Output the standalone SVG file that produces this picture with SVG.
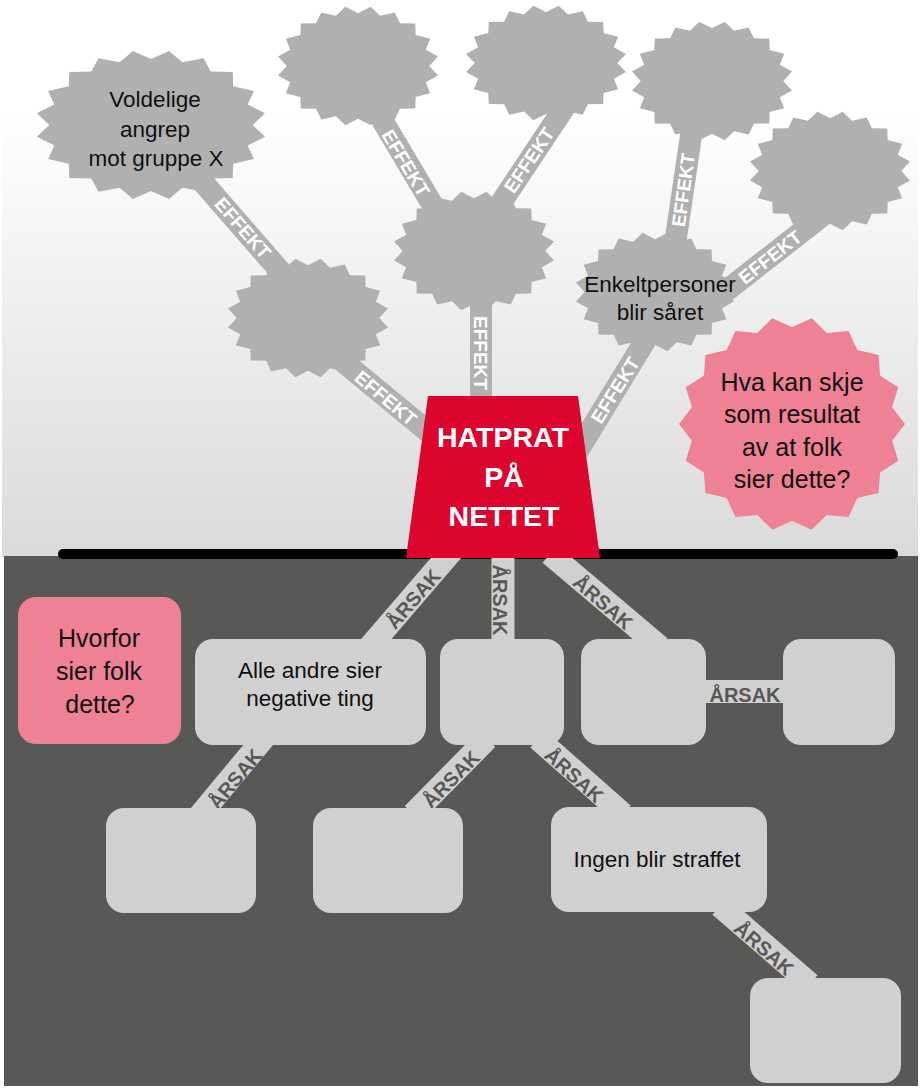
<svg xmlns="http://www.w3.org/2000/svg" xmlns:xlink="http://www.w3.org/1999/xlink" width="920" height="1089" viewBox="0 0 920 1089">
  <style>
    .burst { fill: #b0b0b0; }
    .pink { fill: #ee8193; }
    .box { fill: #d0d0d0; }
    .band-top { stroke: #b0b0b0; stroke-width: 22; fill: none; }
    .band-bot { stroke: #d0d0d0; stroke-width: 23; fill: none; }
    .eff { font-family: "Liberation Sans", Arial, sans-serif; font-weight: bold; font-size: 19px; fill: #ffffff; text-anchor: middle; }
    .aar { font-family: "Liberation Sans", Arial, sans-serif; font-weight: bold; font-size: 20px; fill: #585856; text-anchor: middle; }
    .lbl { font-family: "Liberation Sans", Arial, sans-serif; font-size: 22.5px; fill: #111111; text-anchor: middle; }
    .lbl-big { font-family: "Liberation Sans", Arial, sans-serif; font-size: 25px; fill: #111111; text-anchor: middle; }
    .title { font-family: "Liberation Sans", Arial, sans-serif; font-weight: bold; font-size: 28.5px; fill: #ffffff; text-anchor: middle; }
  </style>
  <defs>
    <linearGradient id="sky" x1="0" y1="0" x2="0" y2="556" gradientUnits="userSpaceOnUse">
      <stop offset="0" stop-color="#ffffff"/>
      <stop offset="0.2" stop-color="#ffffff"/>
      <stop offset="1" stop-color="#dadada"/>
    </linearGradient>
    <polygon id="star20" points="88,0 98.77,15.64 83.69,27.19 89.1,45.4 71.19,51.73 70.71,70.71 51.73,71.19 45.4,89.1 27.19,83.69 15.64,98.77 0,88 -15.64,98.77 -27.19,83.69 -45.4,89.1 -51.73,71.19 -70.71,70.71 -71.19,51.73 -89.1,45.4 -83.69,27.19 -98.77,15.64 -88,0 -98.77,-15.64 -83.69,-27.19 -89.1,-45.4 -71.19,-51.73 -70.71,-70.71 -51.73,-71.19 -45.4,-89.1 -27.19,-83.69 -15.64,-98.77 0,-88 15.64,-98.77 27.19,-83.69 45.4,-89.1 51.73,-71.19 70.71,-70.71 71.19,-51.73 89.1,-45.4 83.69,-27.19 98.77,-15.64"/>
    <polygon id="star18" points="100,0 88.63,15.63 93.97,34.2 77.94,45 76.6,64.28 57.85,68.94 50,86.6 30.78,84.57 17.36,98.48 0,90 -17.36,98.48 -30.78,84.57 -50,86.6 -57.85,68.94 -76.6,64.28 -77.94,45 -93.97,34.2 -88.63,15.63 -100,0 -88.63,-15.63 -93.97,-34.2 -77.94,-45 -76.6,-64.28 -57.85,-68.94 -50,-86.6 -30.78,-84.57 -17.36,-98.48 0,-90 17.36,-98.48 30.78,-84.57 50,-86.6 57.85,-68.94 76.6,-64.28 77.94,-45 93.97,-34.2 88.63,-15.63"/>
  </defs>

  <!-- background -->
  <rect x="2" y="0" width="916" height="557" fill="url(#sky)"/>
  <rect x="4" y="556" width="914" height="530" fill="#585856"/>
  <line x1="63" y1="554" x2="893" y2="554" stroke="#000000" stroke-width="10" stroke-linecap="round"/>

  <!-- connectors -->
  <g id="connectors">
    <!-- EFFEKT bands -->
    <line class="band-top" x1="153" y1="125" x2="321" y2="318"/>
    <line class="band-top" x1="300" y1="326" x2="455" y2="454"/>
    <line class="band-top" x1="481" y1="251" x2="481" y2="410"/>
    <line class="band-top" x1="350" y1="66" x2="460" y2="251"/>
    <line class="band-top" x1="594" y1="63" x2="469" y2="251"/>
    <line class="band-top" x1="699" y1="81" x2="668" y2="292"/>
    <line class="band-top" x1="850" y1="194" x2="680" y2="327"/>
    <line class="band-top" x1="670" y1="300" x2="560" y2="480"/>

    <text class="eff" transform="translate(243,228) rotate(49)" dy="0.36em">EFFEKT</text>
    <text class="eff" transform="translate(386,398) rotate(40)" dy="0.36em">EFFEKT</text>
    <text class="eff" transform="translate(481,353) rotate(90)" dy="0.36em">EFFEKT</text>
    <text class="eff" transform="translate(406,163) rotate(59)" dy="0.36em">EFFEKT</text>
    <text class="eff" transform="translate(529,160) rotate(-56)" dy="0.36em">EFFEKT</text>
    <text class="eff" transform="translate(683,190) rotate(-82)" dy="0.36em">EFFEKT</text>
    <text class="eff" transform="translate(770,257) rotate(-38)" dy="0.36em">EFFEKT</text>
    <text class="eff" transform="translate(615,390) rotate(-58)" dy="0.36em">EFFEKT</text>

    <!-- ÅRSAK bands -->
    <line class="band-bot" x1="458" y1="544" x2="366" y2="651"/>
    <line class="band-bot" x1="503" y1="548" x2="503" y2="645"/>
    <line class="band-bot" x1="550" y1="554" x2="660" y2="647"/>
    <line class="band-bot" x1="700" y1="691.5" x2="790" y2="691.5"/>
    <line class="band-bot" x1="264" y1="738" x2="200" y2="815"/>
    <line class="band-bot" x1="487" y1="739" x2="413" y2="814"/>
    <line class="band-bot" x1="538" y1="739" x2="623" y2="814"/>
    <line class="band-bot" x1="720" y1="906" x2="810" y2="984"/>

    <text class="aar" transform="translate(411,597) rotate(-49)" dy="0.5em">ÅRSAK</text>
    <text class="aar" transform="translate(503,600) rotate(90)" dy="0.5em">ÅRSAK</text>
    <text class="aar" transform="translate(605,600) rotate(41)" dy="0.5em">ÅRSAK</text>
    <text class="aar" x="745" y="702">ÅRSAK</text>
    <text class="aar" transform="translate(233,777) rotate(-50)" dy="0.5em">ÅRSAK</text>
    <text class="aar" transform="translate(449,777) rotate(-45)" dy="0.5em">ÅRSAK</text>
    <text class="aar" transform="translate(576,773) rotate(42)" dy="0.5em">ÅRSAK</text>
    <text class="aar" transform="translate(766,946) rotate(41)" dy="0.5em">ÅRSAK</text>
  </g>

  <!-- effect bursts -->
  <g id="burst-voldelige">
    <use xlink:href="#star20" class="burst" transform="translate(151,125) scale(1.155,0.75)"/>
    <text class="lbl" x="155" y="107">Voldelige</text>
    <text class="lbl" x="155" y="137">angrep</text>
    <text class="lbl" x="156" y="166">mot gruppe X</text>
  </g>
  <g id="burst-top-1"><use xlink:href="#star20" class="burst" transform="translate(358,66) scale(0.81,0.6)"/></g>
  <g id="burst-top-2"><use xlink:href="#star20" class="burst" transform="translate(546,63) scale(0.81,0.58)"/></g>
  <g id="burst-top-3"><use xlink:href="#star20" class="burst" transform="translate(712,81) scale(0.81,0.6)"/></g>
  <g id="burst-top-4"><use xlink:href="#star20" class="burst" transform="translate(830,171) scale(0.81,0.6)"/></g>
  <g id="burst-middle"><use xlink:href="#star20" class="burst" transform="translate(474,251) scale(0.81,0.6)"/></g>
  <g id="burst-left"><use xlink:href="#star20" class="burst" transform="translate(308,318) scale(0.81,0.6)"/></g>
  <g id="burst-enkeltpersoner">
    <use xlink:href="#star20" class="burst" transform="translate(655,292) scale(0.8,0.6)"/>
    <text class="lbl" x="660" y="292">Enkeltpersoner</text>
    <text class="lbl" x="660" y="320">blir såret</text>
  </g>
  <g id="question-effect">
    <use xlink:href="#star18" class="pink" transform="translate(792,424) scale(1.13,1.075)"/>
    <text class="lbl-big" x="792" y="391">Hva kan skje</text>
    <text class="lbl-big" x="792" y="423">som resultat</text>
    <text class="lbl-big" x="792" y="456">av at folk</text>
    <text class="lbl-big" x="792" y="488">sier dette?</text>
  </g>

  <!-- centre -->
  <g id="hatprat">
    <polygon points="428,396 578,396 600,558 406,558" fill="#dc052e"/>
    <text class="title" x="503" y="447">HATPRAT</text>
    <text class="title" x="504" y="487">PÅ</text>
    <text class="title" x="504" y="526">NETTET</text>
  </g>

  <!-- cause boxes -->
  <g id="question-cause">
    <rect x="18" y="597" width="163" height="147" rx="18" class="pink"/>
    <text class="lbl-big" x="99" y="647">Hvorfor</text>
    <text class="lbl-big" x="99" y="680">sier folk</text>
    <text class="lbl-big" x="100" y="713">dette?</text>
  </g>
  <g id="cause-alle">
    <rect x="195" y="639" width="231" height="106" rx="18" class="box"/>
    <text class="lbl" x="310" y="678">Alle andre sier</text>
    <text class="lbl" x="310" y="706">negative ting</text>
  </g>
  <g id="cause-middle"><rect x="440" y="639" width="124" height="106" rx="18" class="box"/></g>
  <g id="cause-right"><rect x="581" y="639" width="125" height="106" rx="18" class="box"/></g>
  <g id="cause-far-right"><rect x="783" y="639" width="112" height="106" rx="18" class="box"/></g>
  <g id="cause-a"><rect x="106" y="808" width="150" height="105" rx="18" class="box"/></g>
  <g id="cause-b"><rect x="313" y="808" width="150" height="105" rx="18" class="box"/></g>
  <g id="cause-ingen">
    <rect x="551" y="807" width="216" height="105" rx="18" class="box"/>
    <text class="lbl" x="657" y="867">Ingen blir straffet</text>
  </g>
  <g id="cause-bottom-right"><rect x="750" y="978" width="151" height="105" rx="18" class="box"/></g>
</svg>
